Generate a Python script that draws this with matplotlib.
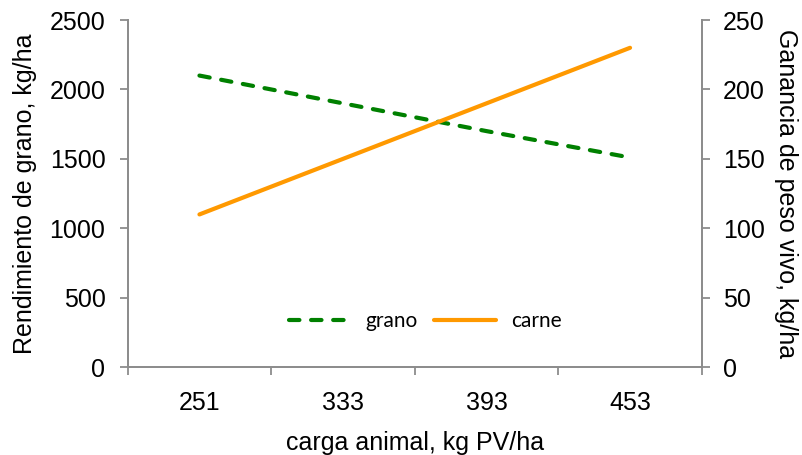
import matplotlib
matplotlib.use("Agg")
import matplotlib.pyplot as plt
import numpy as np

# Data
carga = ["251", "333", "393", "453"]
grano = [2100, 1900, 1700, 1510]      # kg/ha (left axis)
carne = [110, 150, 190, 230]          # kg/ha (right axis)

plt.rcParams["font.family"] = ["Liberation Sans", "DejaVu Sans"]

fig = plt.figure(figsize=(8.03, 4.55), dpi=100)
ax = fig.add_axes([0.159, 0.193, 0.715, 0.763])
ax2 = ax.twinx()

x = np.arange(len(carga))
spine_c = "#8c8c8c"
fs = 18

l1, = ax.plot(x, grano, color="#008000", lw=3, dash_capstyle="round",
              solid_capstyle="round", label="grano")
l1.set_dashes([2.5, 2.8])
l2, = ax2.plot(x, carne, color="#FF9900", lw=3, solid_capstyle="round",
               label="carne")

ax.set_xlim(-0.5, len(carga) - 0.5)
ax.set_ylim(0, 2500)
ax2.set_ylim(0, 250)
ax.set_yticks(np.arange(0, 2501, 500))
ax2.set_yticks(np.arange(0, 251, 50))

# category labels centred, tick marks on boundaries
ax.set_xticks(np.arange(-0.5, len(carga), 1.0))
ax.set_xticklabels([])
ax.set_xticks(x, minor=True)
ax.set_xticklabels(carga, minor=True)
ax.tick_params(axis="x", which="minor", length=0, pad=17, labelsize=fs)
ax.tick_params(axis="x", which="major", length=6, color=spine_c, width=1.3)
ax.tick_params(axis="y", length=6, color=spine_c, width=1.3, labelsize=fs, pad=10)
ax2.tick_params(axis="y", length=6, color=spine_c, width=1.3, labelsize=fs, pad=9)

for a in (ax, ax2):
    a.spines["top"].set_visible(False)
    for s in ("left", "right", "bottom"):
        a.spines[s].set_color(spine_c)
        a.spines[s].set_linewidth(1.3)

ax.set_xlabel("carga animal, kg PV/ha", fontsize=fs, labelpad=12)
ax.set_ylabel("Rendimiento de grano, kg/ha", fontsize=fs, labelpad=9)
ax2.set_ylabel("Ganancia de peso vivo, kg/ha", fontsize=fs, rotation=270,
               labelpad=24)

leg = ax.legend(handles=[l1, l2], loc="center", bbox_to_anchor=(0.518, 0.133),
                ncol=2, frameon=False, handlelength=3.0, columnspacing=0.75,
                handletextpad=0.7,
                prop={"family": ["Lato", "DejaVu Sans"], "size": 15})

fig.savefig("out.png", dpi=100)
